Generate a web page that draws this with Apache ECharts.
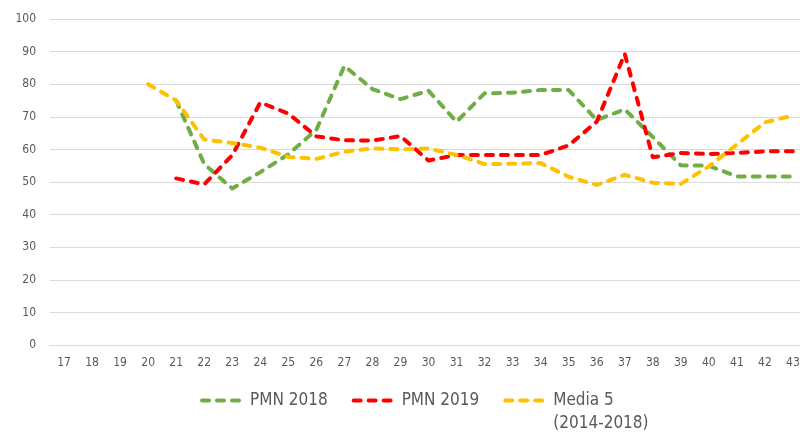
<!DOCTYPE html>
<html>
<head>
<meta charset="utf-8">
<script src="https://cdn.jsdelivr.net/npm/echarts@6/dist/echarts.min.js"></script>
<style>
  html, body { margin: 0; padding: 0; background: #fff; overflow: hidden; }
  /* 原图右侧被裁掉一点，所以容器比窗口略宽 */
  #chart1 { width: 807px; height: 433px; }
</style>
</head>
<body>
<div id="chart1"></div>
<script>
// 横轴：周次 17..43
const weeks = ['17','18','19','20','21','22','23','24','25','26','27','28','29','30',
               '31','32','33','34','35','36','37','38','39','40','41','42','43'];

// PMN 2018（从第21周开始）
const pmn2018 = [null, null, null, null, 75, 55.5, 48, 53, 58.5, 66, 85.6, 78.5, 75.4, 78,
                 68.5, 77.2, 77.4, 78.2, 78.2, 69, 72.3, 63.8, 55.1, 55, 51.7, 51.7, 51.7];

// PMN 2019（从第21周开始）
const pmn2019 = [null, null, null, null, 51.1, 49.3, 58.2, 74.4, 71, 64, 62.8, 62.7, 64.1, 56.6,
                 58.3, 58.3, 58.3, 58.3, 61.2, 68.5, 89.3, 57.6, 58.9, 58.6, 58.9, 59.4, 59.4];

// Media 5 (2014-2018)（从第20周开始）
const media5 = [null, null, null, 80, 75, 63, 62, 60.5, 57.7, 57.1, 59.3, 60.3, 60, 60.3,
                58.3, 55.5, 55.6, 55.8, 51.6, 49.1, 52.2, 49.8, 49.4, 54.8, 61.5, 68.3, 70.4];

const yTicks = [0, 100, 10]; // min, max, interval

const labelFont = '"DejaVu Sans Condensed", "DejaVu Sans", sans-serif';

function lineSeries(name, data, color) {
    return {
        type: 'line',
        name: name,
        data: data,
        smooth: false,
        symbol: 'none',
        connectNulls: false,
        lineStyle: { color: color, width: 4, type: [7, 8], cap: 'round', join: 'round' },
        itemStyle: { color: color }
    };
}

function initChart() {
    const chart = echarts.init(document.getElementById('chart1'), null, { renderer: 'canvas' });

    const option = {
        animation: false,
        grid: { left: 50, right: 0, top: 19, bottom: 88, containLabel: false },
        xAxis: {
            type: 'category',
            data: weeks,
            boundaryGap: true,
            axisLine: { show: true, lineStyle: { color: '#d9d9d9', width: 1 } },
            axisTick: { show: false },
            axisLabel: { color: '#595959', fontSize: 12, fontFamily: labelFont, margin: 12, interval: 0 },
            splitLine: { show: false }
        },
        yAxis: {
            type: 'value',
            min: yTicks[0],
            max: yTicks[1],
            interval: yTicks[2],
            axisLine: { show: false },
            axisTick: { show: false },
            axisLabel: { color: '#595959', fontSize: 12, fontFamily: labelFont, margin: 14 },
            splitLine: { lineStyle: { color: '#d9d9d9', width: 1 } }
        },
        legend: {
            left: 200,
            top: 366,
            padding: 0,
            itemWidth: 43,
            itemHeight: 14,
            itemGap: 24,
            itemStyle: { opacity: 0 },
            lineStyle: { width: 4 },
            textStyle: { color: '#595959', fontSize: 17, fontFamily: labelFont, lineHeight: 23 },
            // 第三项两行：前面加空行，让第一行和图标对齐
            formatter: function (name) {
                return name.indexOf('\n') > -1 ? ' \n' + name : name;
            },
            data: ['PMN 2018', 'PMN 2019', 'Media 5\n(2014-2018)']
        },
        series: [
            lineSeries('PMN 2018', pmn2018, '#70ad47'),
            lineSeries('PMN 2019', pmn2019, '#ff0000'),
            lineSeries('Media 5\n(2014-2018)', media5, '#ffc000')
        ]
    };

    chart.setOption(option);
}

window.addEventListener('load', initChart);
</script>
</body>
</html>
